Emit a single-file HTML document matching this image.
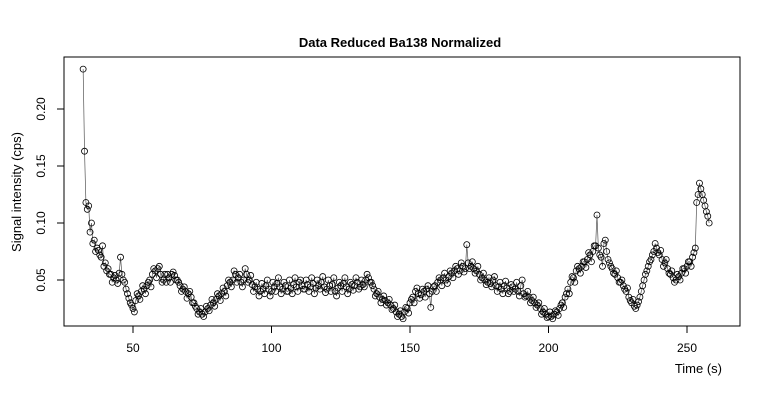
<!DOCTYPE html>
<html><head><meta charset="utf-8"><style>
body{margin:0;background:#fff}
svg{display:block;font-family:"Liberation Sans",Arial,sans-serif}
</style></head><body>
<svg id="chart" width="760" height="400" viewBox="0 0 760 400">
<text x="400" y="47" text-anchor="middle" font-size="13" font-weight="bold">Data Reduced Ba138 Normalized</text>
<rect x="64" y="57" width="676" height="269" fill="none" stroke="#000" stroke-width="1"/>
<text x="722" y="373" text-anchor="end" font-size="13">Time (s)</text>
<text transform="translate(21,192) rotate(-90)" text-anchor="middle" font-size="13">Signal intensity (cps)</text>
<g id="axes"></g>
<g id="series"></g>
</svg>
<script>
const xTicks=[50,100,150,200,250];
const yTicks=[0.05,0.10,0.15,0.20];
const yTickLabels=["0.05","0.10","0.15","0.20"];
const startTime=32;
const timeStep=1;
// readings at whole seconds (x1000)
const signal=[235,118,115,100,85,78,72,80,65,60,
55,52,50,56,55,48,38,30,25,32,
36,40,42,45,50,55,58,60,55,50,
48,52,55,54,50,45,42,40,38,35,
30,25,22,20,22,25,28,30,33,36,
38,40,45,48,50,55,52,48,50,55,
50,46,44,42,40,42,45,42,40,44,
47,44,42,45,40,43,46,44,48,45,
42,46,44,47,43,45,48,44,42,45,
46,40,43,45,47,44,42,46,45,48,
44,46,50,52,48,42,38,35,33,32,
30,28,25,22,20,18,22,25,30,35,
40,38,37,40,42,38,40,45,48,50,
52,50,53,56,58,60,58,62,60,65,
62,60,58,55,52,50,48,47,50,45,
44,42,45,43,40,44,42,40,45,38,
36,35,32,30,28,25,22,20,18,18,
20,22,25,30,35,42,48,52,58,60,
62,66,68,72,75,80,78,70,82,75,
65,60,55,52,48,45,40,35,30,27,
28,35,45,55,62,68,75,78,72,68,
65,60,55,52,50,53,56,60,62,66,
70,78,125,130,120,110,100];
// readings at half seconds (x1000)
const signalHalf=[163,112,92,82,75,76,70,62,58,55,
48,54,47,70,50,42,34,28,22,38,
33,45,38,48,44,60,52,62,48,55,
55,48,57,50,48,40,44,34,40,30,
27,20,25,18,27,23,33,27,38,32,
43,36,50,44,58,48,55,44,60,48,
54,40,48,36,47,38,50,36,48,40,
52,38,48,40,50,38,52,40,50,42,
50,40,52,38,50,42,53,39,50,40,
52,36,48,40,52,38,48,41,52,42,
50,44,55,48,45,36,40,30,36,28,
33,24,28,18,23,16,26,21,33,30,
43,34,42,35,45,26,44,40,52,45,
56,47,58,52,62,55,65,57,81,60,
66,56,62,50,56,46,52,44,53,40,
48,38,49,38,46,40,48,36,50,35,
40,30,35,26,30,20,25,17,22,16,
23,19,28,26,38,38,53,48,62,56,
66,61,74,66,80,107,72,62,85,68,
62,56,58,48,50,42,43,32,33,25,
31,40,50,58,66,72,82,74,76,62,
68,56,58,48,55,50,60,56,66,62,
74,118,135,125,115,106];
const xs=t=>133+(t-50)*2.77;
const ys=v=>280-(v-0.05)*1140;
const NS="http://www.w3.org/2000/svg";
const axes=document.getElementById('axes');
const series=document.getElementById('series');
function mk(tag,attrs,parent){const e=document.createElementNS(NS,tag);for(const k in attrs)e.setAttribute(k,attrs[k]);parent.appendChild(e);return e;}
xTicks.forEach(t=>{
  const l=mk('line',{x1:xs(t),x2:xs(t),y1:326,y2:333,stroke:'#000'},axes);
  
  
  const tx=mk('text',{x:xs(t),y:352,'text-anchor':'middle','font-size':12},axes);
  tx.textContent=String(t);
  
  
});
yTicks.forEach((v,i)=>{
  const l=mk('line',{x1:57,x2:64,y1:ys(v),y2:ys(v),stroke:'#000'},axes);
  
  
  const tx=mk('text',{transform:`translate(45,${ys(v)}) rotate(-90)`,'text-anchor':'middle','font-size':12},axes);
  tx.textContent=yTickLabels[i];
  
  
});
const merged=[];
signal.forEach((s,i)=>{
  const t=startTime+i*timeStep;
  merged.push([t,s]);
  if(i<signalHalf.length) merged.push([t+timeStep/2,signalHalf[i]]);
});
const pts=merged.map(d=>[xs(d[0]),ys(d[1]/1000)]);
const pl=mk('polyline',{points:pts.map(p=>p.join(',')).join(' '),fill:'none',stroke:'#555','stroke-width':0.7},series);


pts.forEach(p=>{
  const c=mk('circle',{cx:p[0],cy:p[1],r:3,fill:'none',stroke:'#000','stroke-width':0.8},series);
  
  
});
</script>
</body></html>
